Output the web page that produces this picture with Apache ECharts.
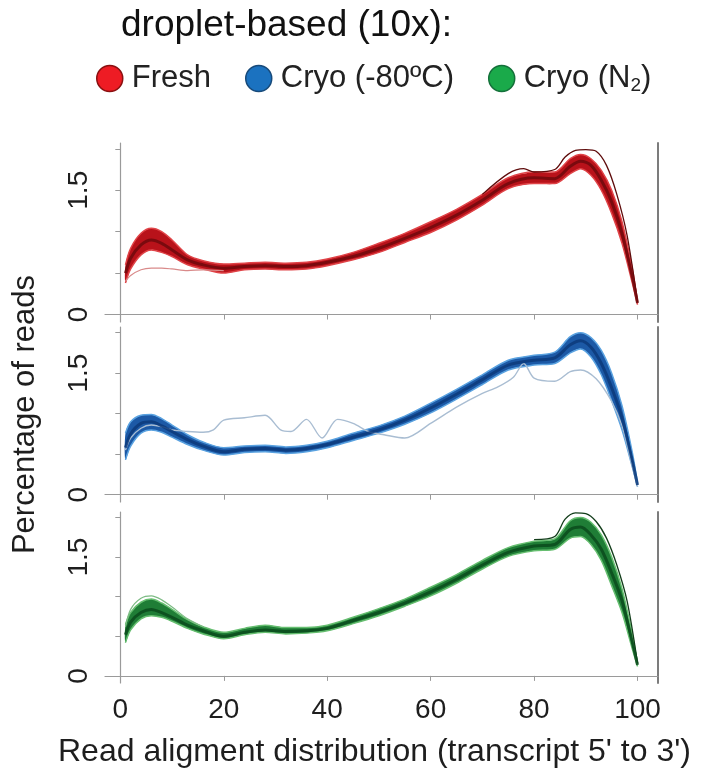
<!DOCTYPE html>
<html>
<head>
<meta charset="utf-8">
<script src="https://cdn.jsdelivr.net/npm/echarts@6/dist/echarts.min.js"></script>
<style>
  html, body { margin: 0; padding: 0; background: #fff; }
  #main { width: 703px; height: 779px; }
</style>
</head>
<body>
<div id="main"></div>
<script>
// positions along the transcript (5' -> 3'), shared by the band curves
const xs = [1, 2, 4, 6, 8, 10, 13, 16, 20, 24, 28, 32, 36, 40, 45, 50, 55, 60, 65, 70, 75, 80, 84, 87, 89, 91, 93, 95, 97, 99, 100]
const xTicks = [0, 20, 40, 60, 80, 100]
const yTicks = [0, 0.5, 1, 1.5, 2]
const yLabels = [0, 1.5]

// Fresh (red panel)
const freshMid = [0.50, 0.68, 0.84, 0.90, 0.86, 0.78, 0.66, 0.60, 0.56, 0.58, 0.59, 0.58, 0.59, 0.63, 0.70, 0.80, 0.92, 1.05, 1.20, 1.38, 1.58, 1.65, 1.64, 1.79, 1.85, 1.80, 1.62, 1.36, 0.98, 0.45, 0.14]
const freshHi = [0.60, 0.80, 0.98, 1.04, 1.00, 0.90, 0.72, 0.65, 0.61, 0.62, 0.63, 0.62, 0.63, 0.67, 0.75, 0.86, 0.98, 1.12, 1.27, 1.45, 1.65, 1.72, 1.72, 1.88, 1.93, 1.88, 1.74, 1.50, 1.12, 0.55, 0.16]
const freshLo = [0.38, 0.55, 0.72, 0.78, 0.75, 0.70, 0.60, 0.55, 0.50, 0.54, 0.55, 0.54, 0.55, 0.59, 0.66, 0.75, 0.87, 0.99, 1.14, 1.32, 1.52, 1.58, 1.58, 1.70, 1.76, 1.68, 1.50, 1.22, 0.86, 0.38, 0.12]
const freshOutX = [1, 2, 4, 6, 8, 10, 13, 16, 20]
const freshOutY = [0.40, 0.47, 0.54, 0.56, 0.56, 0.55, 0.53, 0.54, 0.53]
const freshTopX = [70, 75, 78, 80, 84, 86, 88, 90, 92, 94, 96, 98, 100]
const freshTopY = [1.45, 1.70, 1.76, 1.72, 1.75, 1.90, 1.98, 1.99, 1.97, 1.80, 1.45, 0.95, 0.15]

// Cryo -80 (blue panel)
const cryoMid = [0.58, 0.75, 0.88, 0.90, 0.85, 0.78, 0.68, 0.60, 0.53, 0.56, 0.57, 0.55, 0.57, 0.62, 0.71, 0.80, 0.92, 1.07, 1.24, 1.42, 1.60, 1.66, 1.69, 1.85, 1.90, 1.82, 1.62, 1.32, 0.95, 0.42, 0.12]
const cryoHi = [0.76, 0.90, 0.98, 0.99, 0.94, 0.86, 0.74, 0.65, 0.58, 0.60, 0.61, 0.59, 0.61, 0.66, 0.76, 0.85, 0.97, 1.13, 1.30, 1.48, 1.66, 1.72, 1.76, 1.95, 2.00, 1.94, 1.78, 1.50, 1.10, 0.52, 0.14]
const cryoLo = [0.43, 0.60, 0.76, 0.80, 0.77, 0.71, 0.62, 0.55, 0.49, 0.52, 0.53, 0.51, 0.53, 0.58, 0.67, 0.76, 0.87, 1.01, 1.18, 1.36, 1.54, 1.60, 1.62, 1.75, 1.80, 1.70, 1.48, 1.16, 0.80, 0.34, 0.10]
const cryoOutX = [1, 2, 4, 6, 8, 10, 13, 16, 18, 20, 24, 28, 31, 33, 36, 39, 42, 45, 48, 51, 55, 60, 65, 70, 73, 76, 78, 80, 84, 87, 89, 92, 95, 97, 99, 100]
const cryoOutY = [0.55, 0.70, 0.82, 0.86, 0.84, 0.80, 0.78, 0.77, 0.80, 0.92, 0.95, 0.98, 0.80, 0.78, 0.93, 0.70, 0.93, 0.88, 0.78, 0.74, 0.70, 0.88, 1.08, 1.25, 1.33, 1.45, 1.62, 1.44, 1.40, 1.52, 1.54, 1.43, 1.15, 0.85, 0.35, 0.10]

// Cryo N2 (green panel)
const n2Mid = [0.52, 0.68, 0.80, 0.84, 0.80, 0.74, 0.64, 0.57, 0.50, 0.55, 0.58, 0.56, 0.57, 0.60, 0.70, 0.80, 0.92, 1.06, 1.22, 1.40, 1.56, 1.64, 1.66, 1.85, 1.88, 1.78, 1.60, 1.30, 0.95, 0.42, 0.14]
const n2Hi = [0.65, 0.80, 0.93, 0.97, 0.92, 0.84, 0.71, 0.62, 0.55, 0.60, 0.64, 0.61, 0.61, 0.64, 0.74, 0.85, 0.97, 1.12, 1.28, 1.46, 1.62, 1.70, 1.73, 1.96, 2.00, 1.94, 1.78, 1.50, 1.10, 0.52, 0.16]
const n2Lo = [0.42, 0.58, 0.72, 0.76, 0.74, 0.69, 0.60, 0.53, 0.47, 0.52, 0.55, 0.53, 0.54, 0.57, 0.66, 0.76, 0.88, 1.01, 1.17, 1.35, 1.51, 1.58, 1.60, 1.74, 1.76, 1.66, 1.46, 1.14, 0.80, 0.34, 0.12]
const n2TopX = [1, 2, 4, 6, 8, 10, 13, 16]
const n2TopY = [0.62, 0.84, 0.98, 1.01, 0.96, 0.87, 0.72, 0.62]
const n2PeakX = [80, 84, 86, 88, 90, 92, 94, 96, 98, 100]
const n2PeakY = [1.72, 1.76, 1.98, 2.06, 2.05, 1.95, 1.74, 1.40, 0.94, 0.16]

const groups = ['Fresh', 'Cryo (-80ºC)', 'Cryo (N2)']

const font = "'Liberation Sans', Arial, sans-serif"
const axisGrey = '#9a9a9a'

function pairs (xArr, yArr) {
  return xArr.map((x, i) => [x, yArr[i]])
}

const panels = [
  { name: groups[0], mid: freshMid, hi: freshHi, lo: freshLo, band: '#b8121a', edge: '#e04448', dark: '#6e090d',
    extra: [{ x: freshOutX, y: freshOutY, color: '#d98a8a', width: 1.2 }, { x: freshTopX, y: freshTopY, color: '#5e0b0b', width: 1.3 }] },
  { name: groups[1], mid: cryoMid, hi: cryoHi, lo: cryoLo, band: '#1c59a6', edge: '#5aa2e0', dark: '#0c3a7a',
    extra: [{ x: cryoOutX, y: cryoOutY, color: '#a9bdd2', width: 1.4 }] },
  { name: groups[2], mid: n2Mid, hi: n2Hi, lo: n2Lo, band: '#1f7d36', edge: '#66be70', dark: '#0b4a1c',
    extra: [{ x: n2TopX, y: n2TopY, color: '#7dbb84', width: 1.2 }, { x: n2PeakX, y: n2PeakY, color: '#123d1a', width: 1.3 }] }
]

const gridPos = [
  { top: 143, height: 179 },
  { top: 327, height: 175 },
  { top: 512, height: 171 }
]

let grid = []
let xAxis = []
let yAxis = []
let series = []

panels.forEach((p, i) => {
  grid.push({ left: 105, width: 553, top: gridPos[i].top, height: gridPos[i].height })
  xAxis.push({
    type: 'value',
    gridIndex: i,
    min: -2.96,
    max: 103.96,
    splitLine: { show: false },
    axisLine: { show: true, lineStyle: { color: axisGrey, width: 1.2 } },
    axisTick: { show: true, customValues: xTicks, length: 5, lineStyle: { color: axisGrey } },
    axisLabel: {
      show: i === 2,
      customValues: xTicks,
      fontSize: 28,
      fontFamily: font,
      color: '#1e1e1e',
      margin: 13
    }
  })
  // left axis with ticks and rotated labels
  yAxis.push({
    type: 'value',
    gridIndex: i,
    min: -0.09,
    max: 2.07,
    splitLine: { show: false },
    axisLine: { show: true, lineStyle: { color: axisGrey, width: 1.2 } },
    axisTick: { show: true, customValues: yTicks, length: 5, lineStyle: { color: axisGrey } },
    axisLabel: {
      customValues: yLabels,
      rotate: 90,
      fontSize: 28,
      fontFamily: font,
      color: '#1e1e1e',
      margin: 12
    },
    name: i === 1 ? 'Percentage of reads' : '',
    nameLocation: 'middle',
    nameRotate: 90,
    nameGap: 64,
    nameTextStyle: { fontSize: 31, fontFamily: font, color: '#1e1e1e' }
  })
  // right border of the panel
  yAxis.push({
    type: 'value',
    gridIndex: i,
    position: 'right',
    min: -0.09,
    max: 2.07,
    splitLine: { show: false },
    axisLine: { show: true, lineStyle: { color: '#7c7c7c', width: 2 } },
    axisTick: { show: false },
    axisLabel: { show: false }
  })

  const yIdx = i * 2
  // band between lowest and highest run, drawn as one polygon through the axes
  series.push({
    name: p.name, type: 'custom', xAxisIndex: i, yAxisIndex: yIdx, silent: true,
    data: [[xs[0], p.lo[0]]],
    renderItem: function (params, api) {
      let pts = []
      xs.forEach((x, k) => { pts.push(api.coord([x, p.hi[k]])) })
      for (let k = xs.length - 1; k >= 0; k--) { pts.push(api.coord([xs[k], p.lo[k]])) }
      return {
        type: 'polygon',
        shape: { points: pts, smooth: 0.3 },
        style: { fill: p.band }
      }
    }
  })
  series.push({
    name: p.name, type: 'line', xAxisIndex: i, yAxisIndex: yIdx,
    data: pairs(xs, p.hi), symbol: 'none', smooth: 0.3,
    lineStyle: { color: p.edge, width: 1.5 }
  })
  series.push({
    name: p.name, type: 'line', xAxisIndex: i, yAxisIndex: yIdx,
    data: pairs(xs, p.lo), symbol: 'none', smooth: 0.3,
    lineStyle: { color: p.edge, width: 1.5 }
  })
  p.extra.forEach(e => {
    series.push({
      name: p.name, type: 'line', xAxisIndex: i, yAxisIndex: yIdx,
      data: pairs(e.x, e.y), symbol: 'none', smooth: 0.3,
      lineStyle: { color: e.color, width: e.width }
    })
  })
  series.push({
    name: p.name, type: 'line', xAxisIndex: i, yAxisIndex: yIdx,
    data: pairs(xs, p.mid), symbol: 'none', smooth: 0.3,
    lineStyle: { color: p.dark, width: 3, opacity: 0.85 }
  })
})

let chart = echarts.init(document.getElementById('main'))
let option = {
  animation: false,
  textStyle: { fontFamily: font },
  title: {
    text: 'droplet-based (10x):',
    left: 116,
    top: 2,
    textStyle: { fontSize: 37, fontWeight: 'normal', fontFamily: font, color: '#111' }
  },
  legend: {
    left: 91,
    top: 58,
    icon: 'circle',
    symbolKeepAspect: false,
    itemWidth: 26,
    itemHeight: 30,
    itemGap: 34,
    selectedMode: false,
    lineStyle: { opacity: 0 },
    textStyle: {
      fontSize: 31,
      fontFamily: font,
      color: '#222',
      padding: [0, 0, 0, 4],
      rich: { sub: { fontSize: 19, padding: [14, 0, 0, 0] } }
    },
    formatter: function (name) {
      return name === 'Cryo (N2)' ? 'Cryo (N{sub|2})' : name
    },
    data: [
      { name: groups[0], itemStyle: { color: '#ee1c24', borderColor: '#8a1010', borderWidth: 1.5 } },
      { name: groups[1], itemStyle: { color: '#1b72c0', borderColor: '#174a7a', borderWidth: 1.5 } },
      { name: groups[2], itemStyle: { color: '#1aaa4a', borderColor: '#14703a', borderWidth: 1.5 } }
    ]
  },
  graphic: [{
    type: 'text',
    left: 58,
    top: 736,
    style: {
      text: "Read aligment distribution (transcript 5' to 3')",
      fontSize: 32,
      fontFamily: font,
      fill: '#1e1e1e'
    }
  }],
  grid: grid,
  xAxis: xAxis,
  yAxis: yAxis,
  series: series
}
chart.setOption(option)
window.addEventListener('resize', function () {
  chart.resize()
})
</script>
</body>
</html>
